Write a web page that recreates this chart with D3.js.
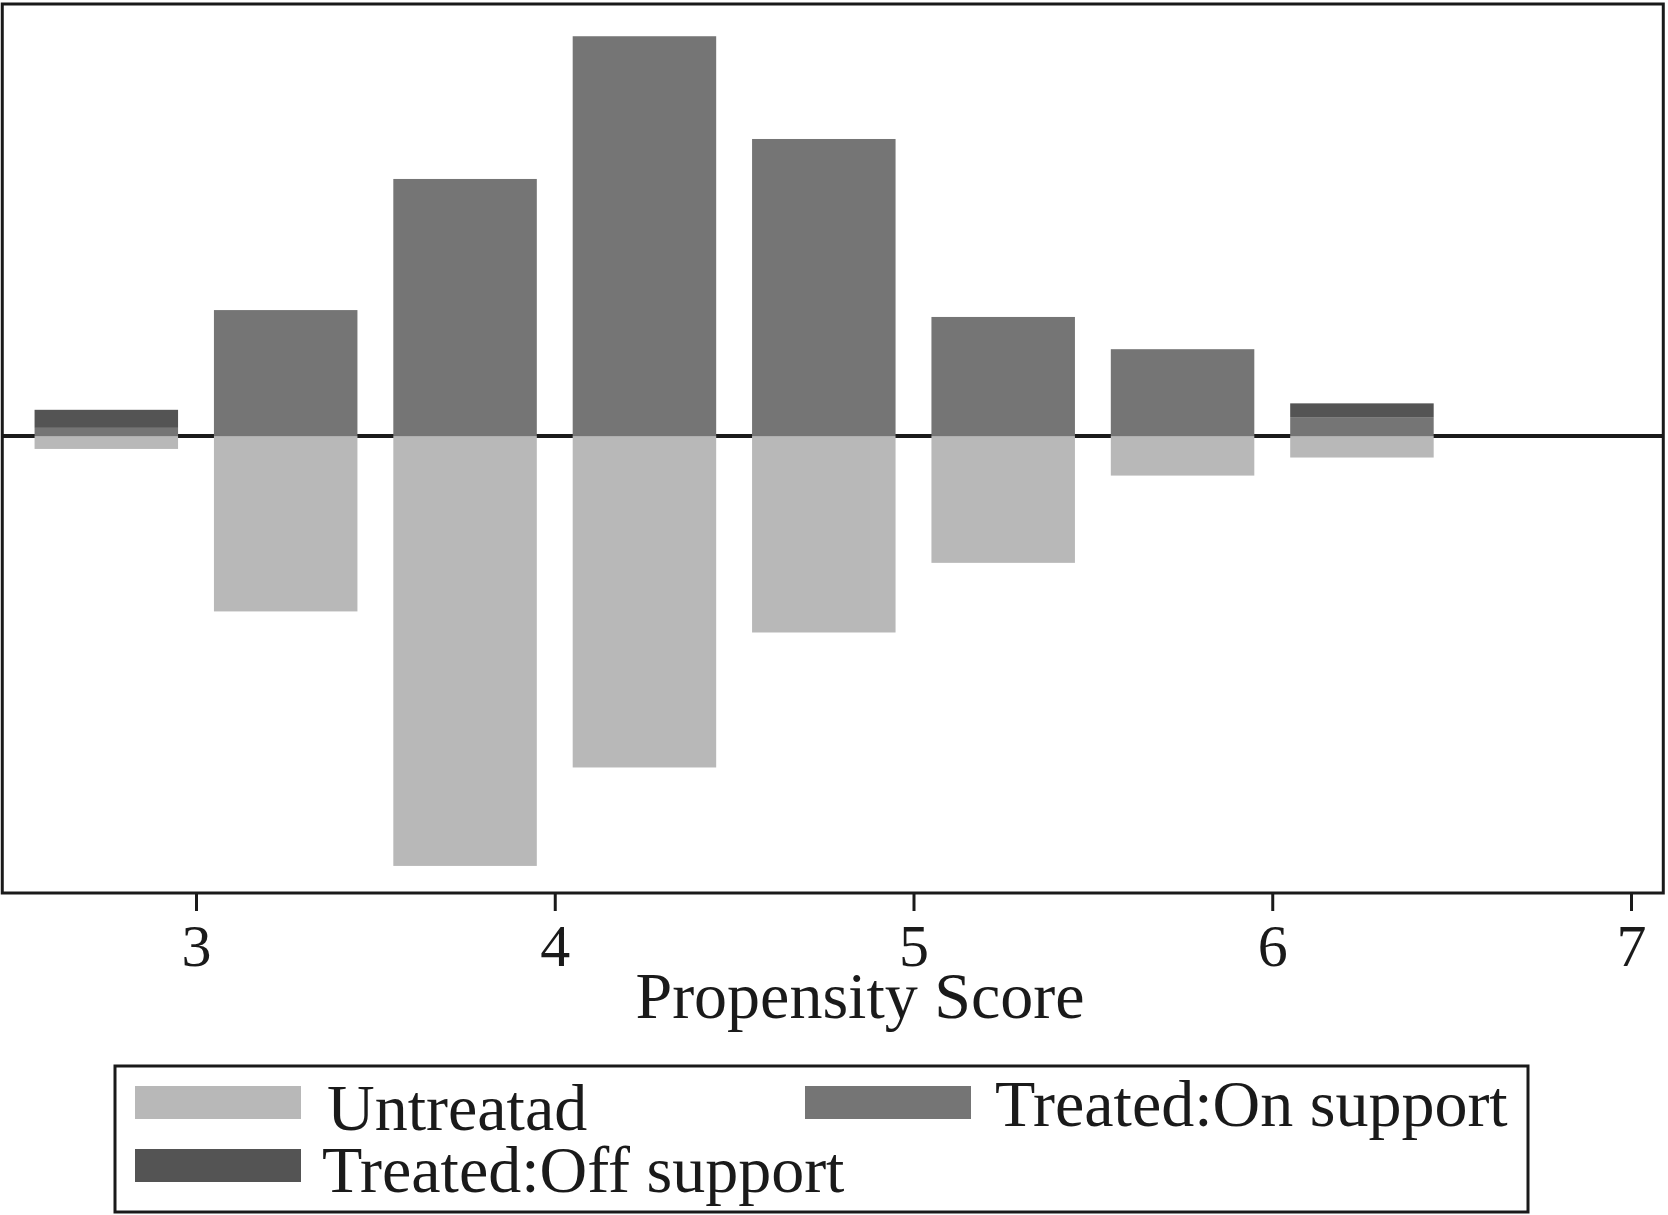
<!DOCTYPE html>
<html>
<head>
<meta charset="utf-8">
<script src="https://cdn.jsdelivr.net/npm/d3@7/dist/d3.min.js"></script>
<style>
  html, body { margin: 0; padding: 0; background: #fff; }
  svg { display: block; }
  text { font-family: "Liberation Serif", "Times New Roman", serif; fill: #1a1a1a; }
</style>
</head>
<body>
<svg id="chart" width="1668" height="1215"></svg>
<script>
// ---- data ----
const binStart = [2.55, 3.05, 3.55, 4.05, 4.55, 5.05, 5.55, 6.05];
const binWidth = 0.4;
const untreated = [3.0, 40.8, 100.0, 77.1, 45.7, 29.5, 9.2, 5.0];
const treatedOn = [1.9, 29.3, 59.8, 93.0, 69.1, 27.7, 20.2, 4.4];
const treatedOff = [4.2, 0, 0, 0, 0, 0, 0, 3.2];
const xTicks = [3, 4, 5, 6, 7];
const xDomain = [2.46, 7.09];
const yDomain = [-106.3, 100.5];
const legendLabels = ["Untreatad", "Treated:On support", "Treated:Off support"];
const colors = { untreated: "#b8b8b8", on: "#757575", off: "#545454", ink: "#1a1a1a" };

const svg = d3.select("#chart");

const x = d3.scaleLinear().domain([3, 7]).range([196, 1631]);
const y = d3.scaleLinear().domain(yDomain).range([893, 4]);

const pLeft = x(xDomain[0]), pRight = x(xDomain[1]);
const pTop = y(yDomain[1]), pBottom = y(yDomain[0]);

// zero line
svg.append("line")
  .attr("x1", pLeft).attr("x2", pRight)
  .attr("y1", y(0)).attr("y2", y(0))
  .attr("stroke", colors.ink).attr("stroke-width", 4);

const bins = binStart.map((s, i) => ({ s, e: s + binWidth, u: untreated[i], on: treatedOn[i], off: treatedOff[i] }));

// untreated (below)
svg.append("g").selectAll("rect").data(bins).join("rect")
  .attr("x", d => x(d.s)).attr("width", d => x(d.e) - x(d.s))
  .attr("y", y(0)).attr("height", d => y(-d.u) - y(0))
  .attr("fill", colors.untreated);

// treated on support (above)
svg.append("g").selectAll("rect").data(bins).join("rect")
  .attr("x", d => x(d.s)).attr("width", d => x(d.e) - x(d.s))
  .attr("y", d => y(d.on)).attr("height", d => y(0) - y(d.on))
  .attr("fill", colors.on);

// treated off support (stacked)
svg.append("g").selectAll("rect").data(bins.filter(d => d.off > 0)).join("rect")
  .attr("x", d => x(d.s)).attr("width", d => x(d.e) - x(d.s))
  .attr("y", d => y(d.on + d.off)).attr("height", d => y(d.on) - y(d.on + d.off))
  .attr("fill", colors.off);

// plot frame
svg.append("rect")
  .attr("x", pLeft).attr("y", pTop)
  .attr("width", pRight - pLeft).attr("height", pBottom - pTop)
  .attr("fill", "none").attr("stroke", colors.ink).attr("stroke-width", 3);

// x axis
const axis = d3.axisBottom(x).tickValues(xTicks).tickFormat(d3.format("d")).tickSize(18).tickPadding(12);
const ax = svg.append("g").attr("transform", `translate(0,${pBottom})`).call(axis);
ax.select(".domain").remove();
ax.selectAll(".tick line").attr("stroke", colors.ink).attr("stroke-width", 3);
ax.selectAll(".tick text")
  .style("font-family", '"Liberation Serif", serif')
  .attr("font-size", 60).attr("fill", colors.ink);

// axis title
svg.append("text")
  .attr("x", 860).attr("y", 1018)
  .attr("text-anchor", "middle")
  .attr("font-size", 66)
  .text("Propensity Score");

// legend
const lg = svg.append("g");
lg.append("rect")
  .attr("x", 115).attr("y", 1066).attr("width", 1413).attr("height", 146)
  .attr("fill", "#fff").attr("stroke", colors.ink).attr("stroke-width", 3);

const legendItems = [
  { label: legendLabels[0], color: colors.untreated, sx: 135, sy: 1086, tx: 327, ty: 1130 },
  { label: legendLabels[1], color: colors.on, sx: 805, sy: 1086, tx: 995, ty: 1126 },
  { label: legendLabels[2], color: colors.off, sx: 135, sy: 1149, tx: 322, ty: 1192 }
];
legendItems.forEach(it => {
  lg.append("rect").attr("x", it.sx).attr("y", it.sy).attr("width", 166).attr("height", 33).attr("fill", it.color);
  lg.append("text").attr("x", it.tx).attr("y", it.ty).attr("font-size", 66).text(it.label);
});
</script>
</body>
</html>
